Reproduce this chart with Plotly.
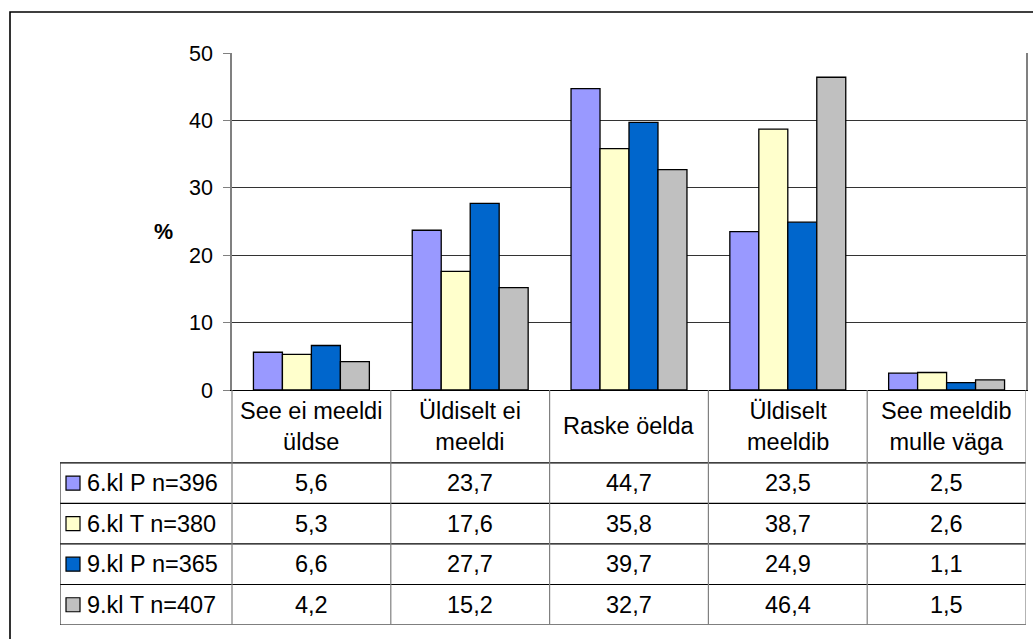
import plotly.graph_objects as go

# ---------------- data ----------------
categories = ["See ei meeldi<br>üldse", "Üldiselt ei<br>meeldi", "Raske öelda",
              "Üldiselt<br>meeldib", "See meeldib<br>mulle väga"]
series_names = ["6.kl P n=396", "6.kl T n=380", "9.kl P n=365", "9.kl T n=407"]
v_6kl_P = [5.6, 23.7, 44.7, 23.5, 2.5]
v_6kl_T = [5.3, 17.6, 35.8, 38.7, 2.6]
v_9kl_P = [6.6, 27.7, 39.7, 24.9, 1.1]
v_9kl_T = [4.2, 15.2, 32.7, 46.4, 1.5]
y_ticks = [0, 10, 20, 30, 40, 50]

series_values = [v_6kl_P, v_6kl_T, v_9kl_P, v_9kl_T]
colors = ["#9999FF", "#FFFFCC", "#0066CC", "#C0C0C0"]

# ---------------- layout constants ----------------
W, H = 1033, 639
ML, MR, MT, MB = 60, 7, 53, 14
plot_w = W - ML - MR
plot_h = H - MT - MB
chart_left_px = 232
zero_px = 390
ncat = len(categories)
cat_px = (W - MR - chart_left_px) / ncat
legend_w = (chart_left_px - ML) / cat_px        # legend column width in category units
chart_dom0 = (H - MB - zero_px) / plot_h
header_h = 1.8
nrows = len(series_names)
table_h = header_h + nrows
row_px = (H - MB - zero_px) / table_h

FONT = "Liberation Sans, Arial, sans-serif"
FS_TICK = 21.5
FS_TAB = 23.5
x = list(range(ncat))

fig = go.Figure()
for name, vals, col in zip(series_names, series_values, colors):
    fig.add_trace(go.Bar(x=x, y=vals, name=name,
                         marker=dict(color=col, line=dict(color="#000000", width=1.3)),
                         xaxis="x", yaxis="y", showlegend=False, hoverinfo="y"))

shapes = []
annotations = []
xl = -0.5 - legend_w
# table horizontal lines
for yy in [header_h + i for i in range(nrows + 1)]:
    shapes.append(dict(type="line", xref="x2", yref="y2", x0=xl, x1=ncat - 0.5, y0=yy, y1=yy,
                       line=dict(color="#000000", width=1.2)))
# legend column left edge
shapes.append(dict(type="line", xref="x2", yref="y2", x0=xl, x1=xl, y0=header_h, y1=table_h,
                   line=dict(color="#333333", width=1.2)))
# category dividers
for k in range(ncat + 1):
    shapes.append(dict(type="line", xref="x2", yref="y2", x0=k - 0.5, x1=k - 0.5, y0=0, y1=table_h,
                       line=dict(color="#808080", width=1.2)))
# header labels
for k, c in enumerate(categories):
    annotations.append(dict(xref="x2", yref="y2", x=k, y=header_h / 2, text=c, showarrow=False,
                            font=dict(family=FONT, size=FS_TAB, color="#000"), align="center"))
# rows
sq_w = 14 / cat_px
sq_h = 14 / row_px
for i, (name, vals, col) in enumerate(zip(series_names, series_values, colors)):
    yc = header_h + i + 0.5
    shapes.append(dict(type="rect", xref="x2", yref="y2", x0=xl + 6 / cat_px, x1=xl + 6 / cat_px + sq_w,
                       y0=yc - sq_h / 2, y1=yc + sq_h / 2, fillcolor=col, line=dict(color="#000", width=1.2)))
    annotations.append(dict(xref="x2", yref="y2", x=xl + 25 / cat_px, y=yc, text=name, showarrow=False,
                            xanchor="left", font=dict(family=FONT, size=FS_TAB, color="#000")))
    for k, v in enumerate(vals):
        annotations.append(dict(xref="x2", yref="y2", x=k, y=yc, text=f"{v:.1f}".replace(".", ","),
                                showarrow=False, font=dict(family=FONT, size=FS_TAB, color="#000")))

# y-axis title
annotations.append(dict(xref="paper", yref="y", x=(163 - ML) / plot_w, y=23.4, text="<b>%</b>",
                        xanchor="center", yanchor="middle",
                        showarrow=False, font=dict(family=FONT, size=FS_TICK, color="#000")))

# outer border
shapes.append(dict(type="rect", xref="paper", yref="paper", x0=(10 - ML) / plot_w, x1=1.2,
                   y0=-0.2, y1=1 + (MT - 12) / plot_h, line=dict(color="#000", width=1.6), layer="below"))

fig.update_layout(
    width=W, height=H, autosize=False,
    margin=dict(l=ML, r=MR, t=MT, b=MB, pad=0, autoexpand=False),
    paper_bgcolor="white", plot_bgcolor="white",
    barmode="group", bargap=0.27, bargroupgap=0,
    xaxis=dict(domain=[(chart_left_px - ML) / plot_w, 1], range=[-0.5, ncat - 0.5], anchor="y",
               showticklabels=False, ticks="", showgrid=False, zeroline=False, automargin=False,
               showline=True, linecolor="#000", linewidth=1.2),
    yaxis=dict(domain=[chart_dom0, 1], range=[0, 50], tickvals=y_ticks, anchor="x", automargin=False,
               ticks="outside", ticklen=7, tickcolor="#808080", tickwidth=1.2,
               showline=True, linecolor="#808080", linewidth=1.5, mirror=True,
               showgrid=True, gridcolor="#333333", gridwidth=1, zeroline=False,
               tickfont=dict(family=FONT, size=FS_TICK, color="#000"), ticklabelstandoff=6),
    xaxis2=dict(domain=[0, 1], range=[xl, ncat - 0.5], anchor="y2", visible=False, automargin=False),
    yaxis2=dict(domain=[0, chart_dom0], range=[table_h, 0], anchor="x2", visible=False, automargin=False),
    shapes=shapes, annotations=annotations,
)

fig.write_html("out.html", config={"displayModeBar": False},
               post_script="document.body.style.margin='0';document.body.style.overflow='hidden';")
